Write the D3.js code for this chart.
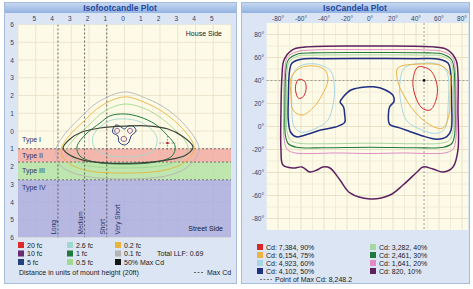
<!DOCTYPE html>
<html>
<head>
<meta charset="utf-8">
<script src="https://cdn.jsdelivr.net/npm/d3@7"></script>
<style>
  body { margin: 0; background: #fff; }
  svg { display: block; font-family: "Liberation Sans", Arial, sans-serif; }
</style>
</head>
<body>
<svg id="chart" width="473" height="289"></svg>
<script>
// ---- isofootcandle plot data (units of mounting height, + = house side) ----
const fcLabels = ["20 fc", "10 fc", "5 fc", "2.6 fc", "1 fc", "0.5 fc", "0.2 fc", "0.1 fc", "50% Max Cd"];
const fcTicksX = [-5, -4, -3, -2, -1, 0, 1, 2, 3, 4, 5];
const fcTicksY = [6, 5, 4, 3, 2, 1, 0, -1, -2, -3, -4, -5, -6];

const bandNames = ["Type I", "Type II", "Type III", "Type IV"];
const bandFrom = [0, -1, -1.75, -2.75];
const bandTo = [-1, -1.75, -2.75, -6];

const zoneNames = ["Long", "Medium", "Short", "Very Short"];
const zoneEdge = [-3.75, -2.25, -1, 0];

const fc01 = [[0,2.2],[1.32,1.8],[2.28,1.3],[3.24,0.51],[4.03,-0.51],[4.2,-1.07],[3.69,-1.92],[2.56,-2.48],[0,-2.7],[-2.51,-2.48],[-3.63,-1.92],[-3.86,-1.07],[-3.41,-0.23],[-2.51,0.73],[-1.49,1.63]];
const fc02 = [[0,1.92],[1.21,1.58],[2.17,1.07],[3.07,0.34],[3.8,-0.56],[3.92,-1.07],[3.41,-1.75],[2.28,-2.2],[0,-2.37],[-2.23,-2.2],[-3.3,-1.69],[-3.58,-1.07],[-3.18,-0.34],[-2.28,0.56],[-1.32,1.41]];
const fc05 = [[0,1.52],[1.04,1.3],[1.89,0.85],[2.73,0.17],[3.46,-0.62],[3.58,-1.07],[3.13,-1.63],[2.0,-1.97],[0,-2.08],[-1.94,-1.97],[-2.96,-1.52],[-3.24,-1.07],[-2.9,-0.51],[-2.06,0.28],[-1.1,1.13]];
const fc1 = [[0,0.96],[0.87,0.79],[1.72,0.39],[2.34,-0.17],[2.85,-0.85],[2.68,-1.41],[1.72,-1.75],[0,-1.86],[-1.66,-1.75],[-2.51,-1.41],[-2.68,-0.9],[-2.23,-0.23],[-1.38,0.45],[-0.82,0.85]];
const fc26 = [[0,0.68],[0.76,0.56],[1.44,0.17],[1.83,-0.39],[1.66,-1.07],[0.87,-1.41],[0,-1.46],[-1.04,-1.35],[-1.72,-0.9],[-1.77,-0.28],[-1.32,0.28],[-0.7,0.62]];
const fc5 = [[-0.65,0.11],[-0.48,0.34],[-0.2,0.23],[0,0.11],[0.2,0.28],[0.48,0.28],[0.65,0],[0.37,-0.28],[0.25,-0.62],[0,-0.79],[-0.31,-0.62],[-0.37,-0.28],[-0.65,-0.11]];
const fc10a = [[-0.55,0.06],[-0.42,0.15],[-0.28,0.06],[-0.33,-0.09],[-0.48,-0.13]];
const fc10b = [[0.17,0.06],[0.31,0.15],[0.45,0.06],[0.4,-0.09],[0.26,-0.13]];
const fc10c = [[-0.17,-0.36],[0.03,-0.31],[0.12,-0.5],[0,-0.58],[-0.17,-0.53]];
const maxCdTrace = [[-3.46,-0.96],[-3.07,-0.45],[-2.39,-0.06],[-1.38,0.17],[0.03,0.28],[1.44,0.28],[2.45,0.11],[3.24,-0.28],[3.86,-0.9],[3.46,-1.35],[2.45,-1.63],[0.87,-1.8],[-1.1,-1.8],[-2.39,-1.63],[-3.18,-1.3]];
const fcMaxPoint = [2.42, -0.68];

// ---- isocandela plot data (degrees) ----
const cdLabels = ["Cd: 7,384, 90%", "Cd: 6,154, 75%", "Cd: 4,923, 60%", "Cd: 4,102, 50%",
                  "Cd: 3,282, 40%", "Cd: 2,461, 30%", "Cd: 1,641, 20%", "Cd: 820, 10%"];
const cdTicks = [-80, -60, -40, -20, 0, 20, 40, 60, 80];
const cdMaxLabel = "Point of Max Cd: 8,248.2";
const cdMaxPoint = [47, 40];

const cd90a = [[-62,41],[-57,39.5],[-55.5,33.5],[-58,26],[-62,24.5],[-64.5,30],[-64.5,36.5]];
const cd90b = [[41.7,51.7],[52.2,49.1],[58.3,36.1],[57.4,23],[52.2,14.3],[45.2,16.1],[39.1,27.4],[37.4,40.4]];
const cd75a = [[-60.9,50.9],[-47.8,52.6],[-39.1,49.1],[-36.5,40.4],[-41.7,27.4],[-49.6,16.1],[-59.1,10],[-67,14.3],[-68.7,27.4],[-68.7,42.2]];
const cd75b = [[24.3,50.9],[43.5,54.3],[62.6,52.6],[69.6,44.8],[69.6,27.4],[68.7,10],[63.5,-1.3],[53.9,0.4],[39.1,12.6],[27.8,30],[23.5,42.2]];
const cd60a = [[-67,45],[-60,53],[-45,54],[-34,48],[-31,35],[-32,20],[-37,5],[-48,-2],[-60,-5],[-66,0],[-68,20]];
const cd60b = [[67,47],[60,54],[45,55],[30,51],[26,38],[27,20],[32,5],[45,-3],[58,-6],[65,-2],[68,20]];
const cd50 = [[-70,48],[-68,55],[-60,58.5],[-40,59],[0,59.2],[40,59],[60,58.5],[68,55],[70,48],[71,20],[70.5,-3],[67,-8.5],[58,-11],[45,-8],[35,-4.5],[25,-1],[17,2],[16,10],[17,17],[21,22],[20,27],[13,32],[3,34.5],[-8,34],[-17,31.5],[-23,26],[-26,21.5],[-23,17],[-22,10],[-22,3.5],[-30,-0.5],[-43,-3],[-55,-7],[-64,-9],[-69,-5],[-71,5],[-71,25]];
const cd40 = [[-72,49],[-70,56.5],[-62,61.5],[-50,62],[0,62.3],[50,62],[62,61.5],[70,56.5],[72,49],[72.5,15],[72,-5],[69,-12],[62,-14.5],[40,-15],[0,-14.5],[-40,-15],[-62,-14.5],[-69,-12],[-72,-5],[-72.5,15]];
const cd30 = [[-73,50],[-71,58],[-63,63],[-50,64],[0,64.3],[50,64],[63,63],[71,58],[73,50],[74,15],[73.5,-8],[71,-15],[64,-18],[40,-18.5],[0,-18],[-40,-18.5],[-64,-18],[-71,-15],[-73.5,-8],[-74,15]];
const cd20 = [[-74,50],[-72,60],[-64,65],[-50,66.5],[0,66.8],[50,66.5],[64,65],[72,60],[74,50],[75,15],[74.5,-12],[72,-20],[65,-23],[50,-23.5],[30,-23],[0,-23.5],[-30,-23],[-50,-23.5],[-65,-23],[-72,-20],[-74.5,-12],[-75,15]];
const cd10 = [[-76.5,44.8],[-74.8,57.8],[-67.8,66.5],[-56.5,69.1],[0,70],[56.5,69.1],[67.8,66.5],[74.8,57.8],[76.5,44.8],[76.5,14.3],[76.5,-20.4],[72.2,-35.2],[63.5,-39.6],[54.8,-37],[46.1,-35.2],[40.9,-39.6],[28.7,-50.9],[17.4,-59.6],[0,-63],[-17.4,-57.8],[-26.1,-46.5],[-34.8,-36.1],[-40.9,-35.2],[-46.1,-37.8],[-52.2,-39.6],[-59.1,-35.2],[-67,-36.1],[-75.7,-33.5],[-77.4,-20.4],[-77.4,14.3]];

// colours
const fcColor = {"20 fc":"#e02a2a","10 fc":"#6c2a72","5 fc":"#24407e","2.6 fc":"#9fd8cf","1 fc":"#1f7a3e",
  "0.5 fc":"#a3d890","0.2 fc":"#e8b43c","0.1 fc":"#b4b4b4","50% Max Cd":"#161616"};
const cdColor = ["#d8262a","#eeb242","#a6d6e6","#1f2f82","#a8d8a0","#1d7a3c","#e08cc2","#5e2060"];
const bandFill = [null, "#f2aaa2", "#b3e2a3", "#a9acdf"];

const svg = d3.select("#chart");
const defs = svg.append("defs");
const grad = defs.append("linearGradient").attr("id", "bar")
  .attr("x1", 0).attr("y1", 0).attr("x2", 0).attr("y2", 1);
grad.append("stop").attr("offset", "0%").attr("stop-color", "#c6d7f0");
grad.append("stop").attr("offset", "100%").attr("stop-color", "#93b2e2");

function panel(x, w, title) {
  const g = svg.append("g");
  g.append("rect").attr("x", x + 0.5).attr("y", 2.5).attr("width", w).attr("height", 281)
    .attr("fill", "#dbe5f3").attr("stroke", "#a7bcdb");
  g.append("rect").attr("x", x + 1).attr("y", 3).attr("width", w - 1).attr("height", 10)
    .attr("fill", "url(#bar)");
  g.append("text").attr("x", x + w / 2).attr("y", 11).attr("text-anchor", "middle")
    .attr("font-size", 8.5).attr("font-weight", "bold").attr("fill", "#22479c").text(title);
  return g;
}

// ================= left : isofootcandle =================
const L = panel(4, 232, "Isofootcandle Plot");
const lx = d3.scaleLinear().domain([-6, 6]).range([18, 231]);
const ly = d3.scaleLinear().domain([-6, 6]).range([237.5, 24.5]);

defs.append("clipPath").attr("id", "clipL").append("rect")
  .attr("x", lx(-6)).attr("y", ly(6)).attr("width", lx(6) - lx(-6)).attr("height", ly(-6) - ly(6));

const lp = L.append("g").attr("clip-path", "url(#clipL)");
lp.append("rect").attr("x", lx(-6)).attr("y", ly(6)).attr("width", lx(6) - lx(-6))
  .attr("height", ly(-6) - ly(6)).attr("fill", "#fdfbe8");

// grid
lp.selectAll(".gx").data(d3.range(-6, 7)).join("line")
  .attr("x1", d => lx(d)).attr("x2", d => lx(d)).attr("y1", ly(6)).attr("y2", ly(-6))
  .attr("stroke", "#e7e1c6").attr("stroke-width", 0.8);
lp.selectAll(".gy").data(d3.range(-6, 7)).join("line")
  .attr("y1", d => ly(d)).attr("y2", d => ly(d)).attr("x1", lx(-6)).attr("x2", lx(6))
  .attr("stroke", "#e7e1c6").attr("stroke-width", 0.8);

// type bands
bandNames.forEach((n, i) => {
  if (bandFill[i]) {
    lp.append("rect").attr("x", lx(-6)).attr("width", lx(6) - lx(-6))
      .attr("y", ly(bandFrom[i])).attr("height", ly(bandTo[i]) - ly(bandFrom[i]))
      .attr("fill", bandFill[i]).attr("opacity", 0.85);
  }
});
bandTo.slice(0, 3).forEach(v => {
  lp.append("line").attr("x1", lx(-6)).attr("x2", lx(6)).attr("y1", ly(v)).attr("y2", ly(v))
    .attr("stroke", "#555").attr("stroke-width", 0.8).attr("stroke-dasharray", "2,2");
});
zoneEdge.filter(v => v !== 0).forEach(v => {
  lp.append("line").attr("x1", lx(v)).attr("x2", lx(v)).attr("y1", ly(6)).attr("y2", ly(-6))
    .attr("stroke", "#444").attr("stroke-width", 0.8).attr("stroke-dasharray", "2,2");
});

// contours
const lLine = d3.line().x(d => lx(d[0])).y(d => ly(d[1])).curve(d3.curveCatmullRomClosed.alpha(0.5));
const fcSets = [
  ["0.1 fc", fc01], ["0.2 fc", fc02], ["0.5 fc", fc05], ["1 fc", fc1], ["2.6 fc", fc26],
  ["5 fc", fc5], ["10 fc", fc10a], ["10 fc", fc10b], ["10 fc", fc10c], ["50% Max Cd", maxCdTrace]
];
fcSets.forEach(([k, pts]) => {
  lp.append("path").datum(pts).attr("d", lLine).attr("fill", "none")
    .attr("stroke", k === "50% Max Cd" ? "#3b4538" : fcColor[k])
    .attr("stroke-width", k === "50% Max Cd" ? 1.2 : k === "10 fc" ? 0.8 : (k === "5 fc" || k === "1 fc") ? 1 : 0.9);
});

// max cd marker
const mx = lx(fcMaxPoint[0]), my = ly(fcMaxPoint[1]);
lp.append("line").attr("x1", mx - 8).attr("x2", mx + 8).attr("y1", my).attr("y2", my)
  .attr("stroke", "#666").attr("stroke-width", 0.7).attr("stroke-dasharray", "1.5,1.5");
lp.append("line").attr("x1", mx).attr("x2", mx).attr("y1", my - 7).attr("y2", my + 8)
  .attr("stroke", "#666").attr("stroke-width", 0.7).attr("stroke-dasharray", "1.5,1.5");
lp.append("circle").attr("cx", mx).attr("cy", my).attr("r", 1.3).attr("fill", "#b03030");

// band and zone labels
bandNames.forEach((n, i) => {
  const yv = bandTo[i] === -6 ? bandFrom[i] - 0.45 : (bandFrom[i] + bandTo[i]) / 2;
  lp.append("text").attr("x", lx(-6) + 4).attr("y", ly(yv) + 2.5)
    .attr("font-size", 7).attr("fill", "#2e3366").text(n);
});
zoneNames.forEach((n, i) => {
  const xx = lx(zoneEdge[i]) - (zoneEdge[i] === 0 ? 5 : 2);
  lp.append("text").attr("transform", `translate(${xx},${ly(-6) - 3}) rotate(-90)`)
    .attr("font-size", 6.5).attr("fill", "#2e3366").text(n);
});
lp.append("text").attr("x", lx(6) - 9).attr("y", ly(5.5) + 2.5).attr("text-anchor", "end")
  .attr("font-size", 7).attr("fill", "#222").text("House Side");
lp.append("text").attr("x", lx(6) - 8).attr("y", ly(-5.5) + 2.5).attr("text-anchor", "end")
  .attr("font-size", 7).attr("fill", "#222").text("Street Side");

// axes labels
L.selectAll(".xt").data(fcTicksX).join("text")
  .attr("x", d => lx(d) - 1.5).attr("y", 20.5).attr("text-anchor", "middle")
  .attr("font-size", 6.5).attr("fill", "#2f3f6a").text(d => Math.abs(d));
L.selectAll(".yt").data(fcTicksY).join("text")
  .attr("x", 12).attr("y", d => ly(d) + 2.5).attr("text-anchor", "middle")
  .attr("font-size", 6.5).attr("fill", "#2f3f6a").text(d => Math.abs(d));

// legend
fcLabels.forEach((n, i) => {
  const cx = [18, 67, 115][Math.floor(i / 3)], cy = [245, 253.5, 262][i % 3];
  L.append("rect").attr("x", cx).attr("y", cy - 3).attr("width", 6).attr("height", 6).attr("fill", fcColor[n]);
  L.append("text").attr("x", cx + 9).attr("y", cy + 2.5).attr("font-size", 7).attr("fill", "#222").text(n);
});
L.append("text").attr("x", 157).attr("y", 256).attr("font-size", 7).attr("fill", "#222").text("Total LLF: 0.69");
L.append("text").attr("x", 19).attr("y", 275).attr("font-size", 7).attr("fill", "#222")
  .text("Distance in units of mount height (20ft)");
L.append("line").attr("x1", 194).attr("x2", 204).attr("y1", 272.5).attr("y2", 272.5)
  .attr("stroke", "#666").attr("stroke-dasharray", "2,1.5");
L.append("text").attr("x", 207).attr("y", 275).attr("font-size", 7).attr("fill", "#222").text("Max Cd");

// ================= right : isocandela =================
const R = panel(241, 228, "IsoCandela Plot");
const rx = d3.scaleLinear().domain([-90, 90]).range([266.5, 473.5]);
const ry = d3.scaleLinear().domain([-90, 90]).range([230, 23]);
const rRight = 468;

defs.append("clipPath").attr("id", "clipR").append("rect")
  .attr("x", rx(-90)).attr("y", ry(90)).attr("width", rRight - rx(-90)).attr("height", ry(-90) - ry(90));
const rp = R.append("g").attr("clip-path", "url(#clipR)");
rp.append("rect").attr("x", rx(-90)).attr("y", ry(90)).attr("width", rRight - rx(-90))
  .attr("height", ry(-90) - ry(90)).attr("fill", "#fdfbe8");

rp.selectAll(".gx").data(d3.range(-80, 90, 10)).join("line")
  .attr("x1", d => rx(d)).attr("x2", d => rx(d)).attr("y1", ry(90)).attr("y2", ry(-90))
  .attr("stroke", d => d % 20 === 0 ? "#e2dbbd" : "#efead2").attr("stroke-width", 0.8);
rp.selectAll(".gy").data(d3.range(-80, 90, 10)).join("line")
  .attr("y1", d => ry(d)).attr("y2", d => ry(d)).attr("x1", rx(-90)).attr("x2", rRight)
  .attr("stroke", d => d % 20 === 0 ? "#e2dbbd" : "#efead2").attr("stroke-width", 0.8);

// max point crosshair
rp.append("line").attr("x1", rx(-90)).attr("x2", rRight).attr("y1", ry(cdMaxPoint[1])).attr("y2", ry(cdMaxPoint[1]))
  .attr("stroke", "#888").attr("stroke-width", 0.8).attr("stroke-dasharray", "2,2");
rp.append("line").attr("x1", rx(cdMaxPoint[0])).attr("x2", rx(cdMaxPoint[0])).attr("y1", ry(90)).attr("y2", ry(-90))
  .attr("stroke", "#888").attr("stroke-width", 0.8).attr("stroke-dasharray", "2,2");

const rLine = d3.line().x(d => rx(d[0])).y(d => ry(d[1])).curve(d3.curveCatmullRomClosed.alpha(0.5));
const cdSets = [
  [7, cd10], [6, cd20], [5, cd30], [4, cd40], [3, cd50],
  [2, cd60a], [2, cd60b], [1, cd75a], [1, cd75b], [0, cd90a], [0, cd90b]
];
cdSets.forEach(([k, pts]) => {
  rp.append("path").datum(pts).attr("d", rLine).attr("fill", "none")
    .attr("stroke", cdColor[k])
    .attr("stroke-width", k === 3 || k === 7 ? 1.5 : k === 5 ? 1.1 : 1);
});
rp.append("circle").attr("cx", rx(cdMaxPoint[0])).attr("cy", ry(cdMaxPoint[1])).attr("r", 1.4).attr("fill", "#111");

R.selectAll(".xt").data(cdTicks).join("text")
  .attr("x", d => rx(d)).attr("y", 20.5).attr("text-anchor", "middle")
  .attr("font-size", 6.5).attr("fill", "#2f3f6a").text(d => d + "°");
R.selectAll(".yt").data(cdTicks).join("text")
  .attr("x", 264).attr("y", d => ry(d) + 2.5).attr("text-anchor", "end")
  .attr("font-size", 6.5).attr("fill", "#2f3f6a").text(d => d + "°");

cdLabels.forEach((n, i) => {
  const cx = [257, 370][Math.floor(i / 4)], cy = [247, 255, 263, 271][i % 4];
  R.append("rect").attr("x", cx).attr("y", cy - 3).attr("width", 6).attr("height", 6).attr("fill", cdColor[i]);
  R.append("text").attr("x", cx + 9).attr("y", cy + 2.5).attr("font-size", 7).attr("fill", "#222").text(n);
});
R.append("line").attr("x1", 260).attr("x2", 272).attr("y1", 279.5).attr("y2", 279.5)
  .attr("stroke", "#777").attr("stroke-dasharray", "2,1.5");
R.append("text").attr("x", 275).attr("y", 282).attr("font-size", 7).attr("fill", "#222").text(cdMaxLabel);
</script>
</body>
</html>
